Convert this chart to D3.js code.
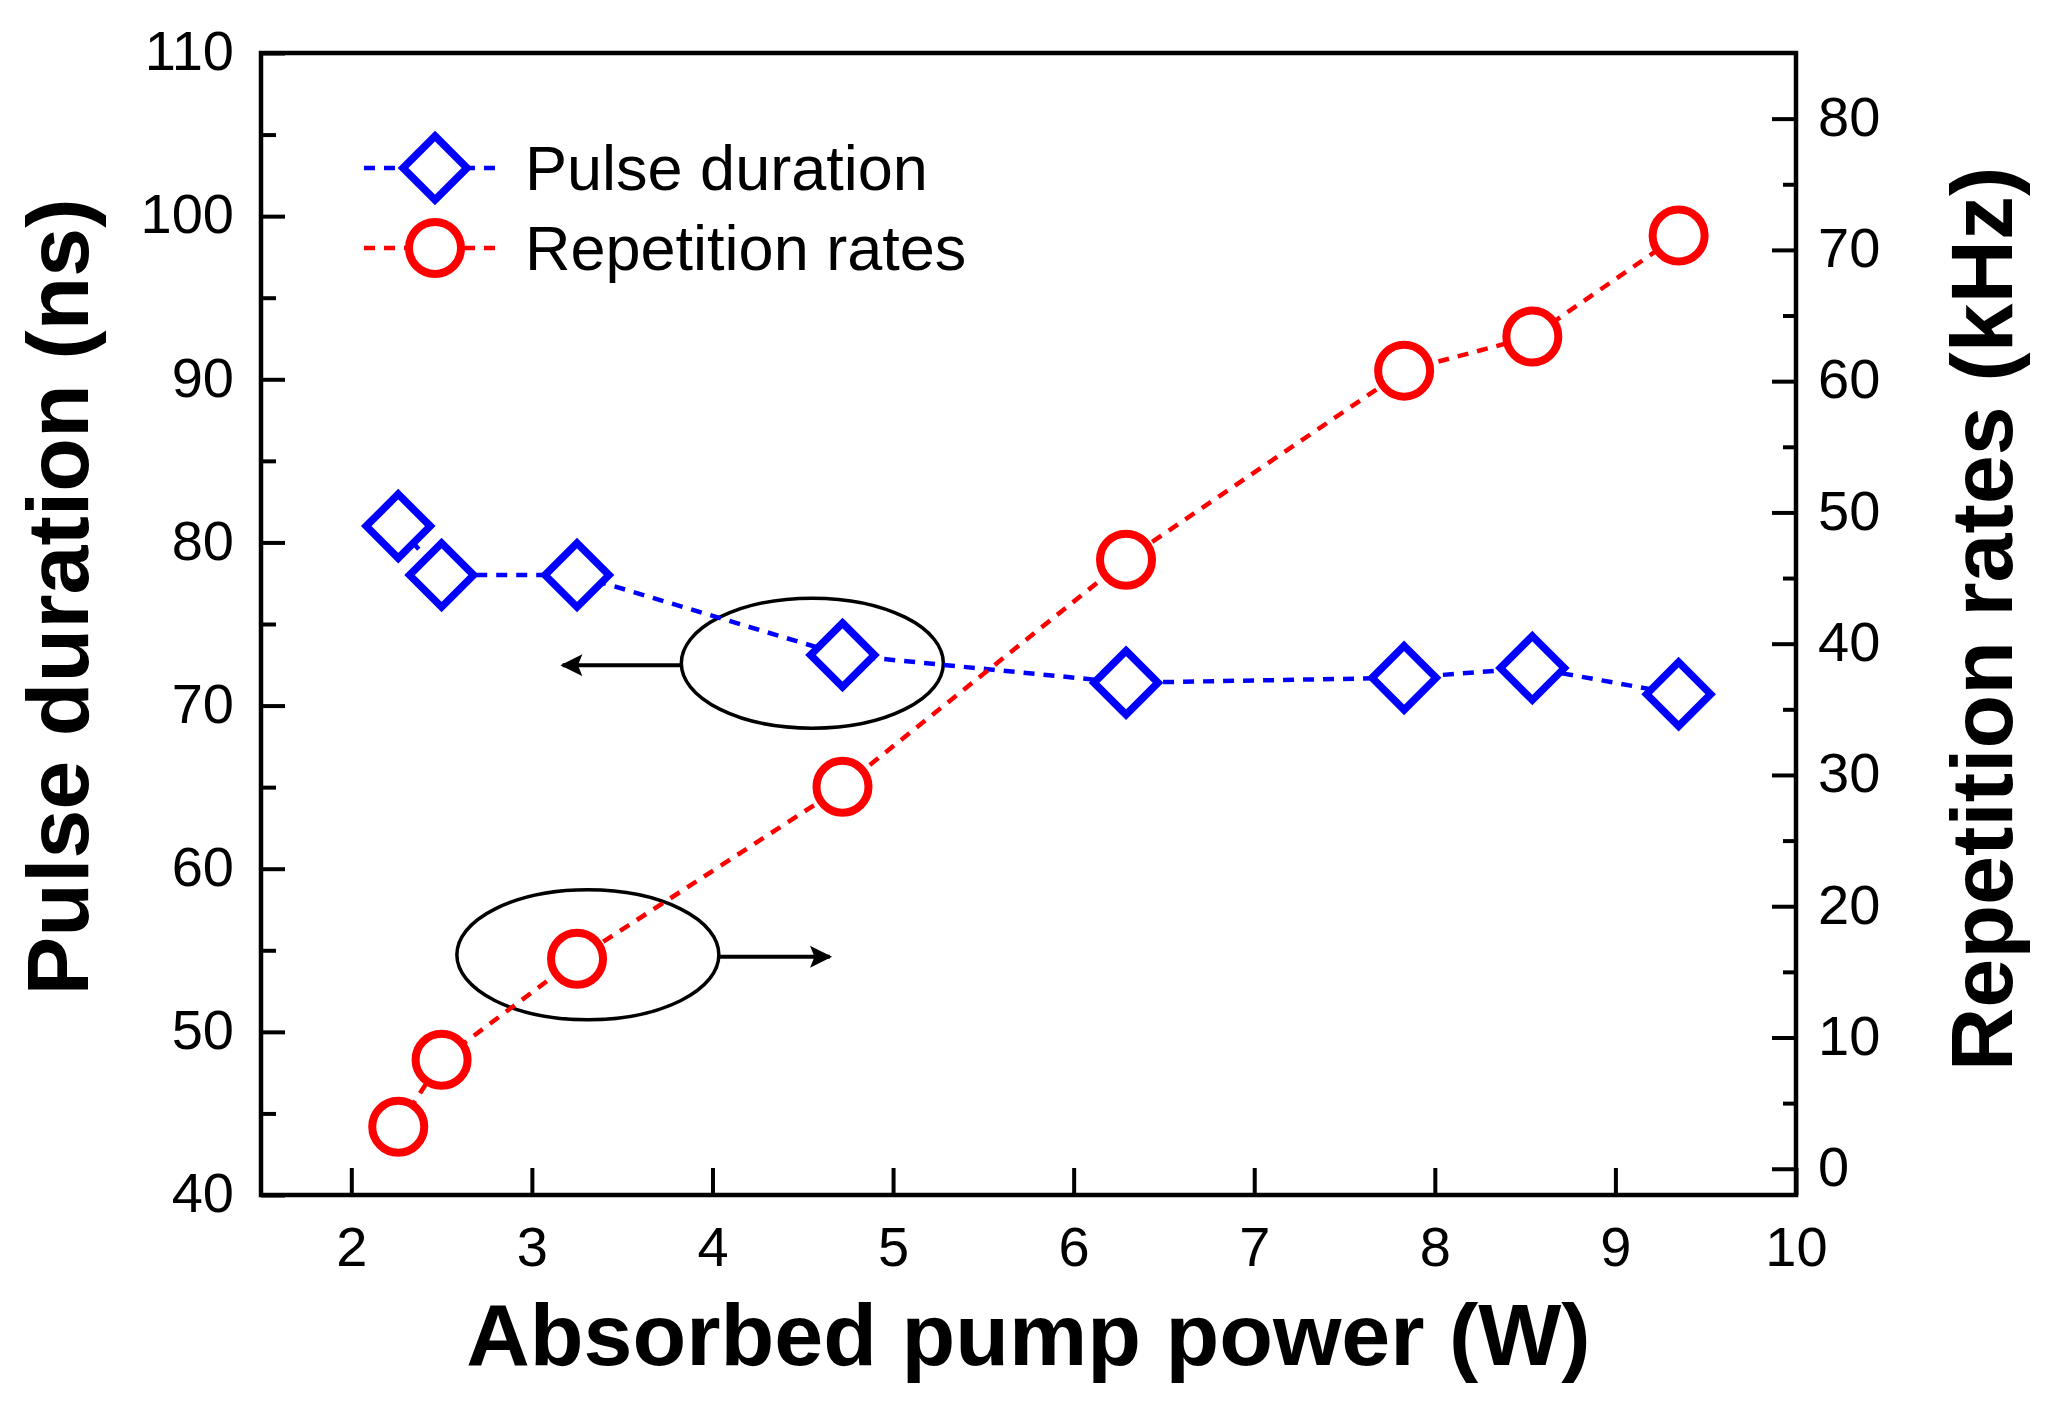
<!DOCTYPE html>
<html>
<head>
<meta charset="utf-8">
<script src="https://cdn.jsdelivr.net/npm/d3@7"></script>
<style>
  body { margin: 0; background: #fff; }
  svg { display: block; }
  text { font-family: "Liberation Sans", Arial, sans-serif; }
  .tick text { font-size: 56px; fill: #000; }
  .title { font-size: 88px; font-weight: bold; fill: #000; }
  .legend { font-size: 63px; fill: #000; }
</style>
</head>
<body>
<div id="chart"></div>
<script>
// data
const power = [2.26, 2.50, 3.25, 4.72, 6.29, 7.83, 8.54, 9.35]
const pulseDuration = [81.0, 78.0, 78.0, 73.1, 71.4, 71.7, 72.3, 70.7]
const repRate = [3.2, 8.3, 16.0, 29.1, 46.4, 60.8, 63.4, 71.1]

const xTicks = [2, 3, 4, 5, 6, 7, 8, 9, 10]
const leftTicks = [40, 50, 60, 70, 80, 90, 100, 110]
const leftMinor = [45, 55, 65, 75, 85, 95, 105]
const rightTicks = [0, 10, 20, 30, 40, 50, 60, 70, 80]
const rightMinor = [5, 15, 25, 35, 45, 55, 65, 75]

const config = {
  width: 2052,
  height: 1408,
  left: 261,
  right: 1796,
  top: 53,
  bottom: 1195,
  blue: '#0000ff',
  red: '#ff0000'
}

const svg = d3.select('#chart').append('svg')
  .attr('width', config.width)
  .attr('height', config.height)

svg.append('rect')
  .attr('width', config.width)
  .attr('height', config.height)
  .attr('fill', '#fff')

const x = d3.scaleLinear().domain([1.5, 10]).range([config.left, config.right])
const yL = d3.scaleLinear().domain([40, 110]).range([config.bottom, config.top])
const yR = d3.scaleLinear().domain([-2, 85]).range([config.bottom, config.top])

// axes (ticks pointing inward)
svg.append('g')
  .attr('transform', `translate(0,${config.bottom})`)
  .call(d3.axisBottom(x).tickValues(xTicks).tickSize(-27).tickPadding(31).tickFormat(d3.format('d')))

const lAxis = svg.append('g')
  .attr('transform', `translate(${config.left},0)`)
  .call(d3.axisLeft(yL).tickValues(leftTicks).tickSize(-24).tickPadding(27))
svg.append('g')
  .attr('transform', `translate(${config.left},0)`)
  .call(d3.axisLeft(yL).tickValues(leftMinor).tickSize(-15).tickFormat(''))

const rAxis = svg.append('g')
  .attr('transform', `translate(${config.right},0)`)
  .call(d3.axisRight(yR).tickValues(rightTicks).tickSize(-24).tickPadding(22))
svg.append('g')
  .attr('transform', `translate(${config.right},0)`)
  .call(d3.axisRight(yR).tickValues(rightMinor).tickSize(-13).tickFormat(''))

svg.selectAll('.domain').remove()
svg.selectAll('.tick line').attr('stroke', '#000').attr('stroke-width', 4)
lAxis.selectAll('.tick text').attr('dy', '0.3em')
rAxis.selectAll('.tick text').attr('dy', '0.3em')

// frame
svg.append('rect')
  .attr('x', config.left)
  .attr('y', config.top)
  .attr('width', config.right - config.left)
  .attr('height', config.bottom - config.top)
  .attr('fill', 'none')
  .attr('stroke', '#000')
  .attr('stroke-width', 4.5)

// axis titles
svg.append('text')
  .attr('class', 'title')
  .attr('x', (config.left + config.right) / 2)
  .attr('y', 1365)
  .attr('text-anchor', 'middle')
  .text('Absorbed pump power (W)')

svg.append('text')
  .attr('class', 'title')
  .attr('transform', 'translate(88,597) rotate(-90)')
  .attr('text-anchor', 'middle')
  .text('Pulse duration (ns)')

svg.append('text')
  .attr('class', 'title')
  .attr('transform', 'translate(2012,619) rotate(-90)')
  .attr('text-anchor', 'middle')
  .text('Repetition rates (kHz)')

// annotation ellipses with arrows
const defs = svg.append('defs')
defs.append('marker')
  .attr('id', 'head')
  .attr('viewBox', '0 0 10 10')
  .attr('refX', 9)
  .attr('refY', 5)
  .attr('markerWidth', 8)
  .attr('markerHeight', 5.5)
  .attr('markerUnits', 'strokeWidth')
  .attr('orient', 'auto')
  .append('path')
  .attr('d', 'M0,0 L10,5 L0,10 L2,5 Z')
  .attr('fill', '#000')

const notes = [
  { cx: x(4.553), cy: yL(72.6), to: x(3.17) },
  { cx: x(3.31), cy: yR(16.3), to: x(4.65) }
]
notes.forEach(n => {
  svg.append('ellipse')
    .attr('cx', n.cx).attr('cy', n.cy)
    .attr('rx', 131).attr('ry', 65)
    .attr('fill', 'none').attr('stroke', '#000').attr('stroke-width', 3.5)
  const from = n.to < n.cx ? n.cx - 131 : n.cx + 131
  svg.append('line')
    .attr('x1', from).attr('y1', n.cy + 2)
    .attr('x2', n.to).attr('y2', n.cy + 2)
    .attr('stroke', '#000').attr('stroke-width', 4)
    .attr('marker-end', 'url(#head)')
})

// series
const diamond = h => `M0,${-h}L${h},0L0,${h}L${-h},0Z`

const pulsePts = power.map((p, i) => [x(p), yL(pulseDuration[i])])
const repPts = power.map((p, i) => [x(p), yR(repRate[i])])

svg.append('path')
  .attr('d', d3.line()(pulsePts))
  .attr('fill', 'none').attr('stroke', config.blue)
  .attr('stroke-width', 4.5).attr('stroke-dasharray', '11,9')

svg.append('path')
  .attr('d', d3.line()(repPts))
  .attr('fill', 'none').attr('stroke', config.red)
  .attr('stroke-width', 4.5).attr('stroke-dasharray', '11,9')

svg.selectAll('.dia')
  .data(pulsePts)
  .enter()
  .append('path')
  .attr('class', 'dia')
  .attr('transform', d => `translate(${d[0]},${d[1]})`)
  .attr('d', diamond(32))
  .attr('fill', '#fff').attr('stroke', config.blue).attr('stroke-width', 7.5)

svg.selectAll('.circ')
  .data(repPts)
  .enter()
  .append('circle')
  .attr('class', 'circ')
  .attr('cx', d => d[0]).attr('cy', d => d[1])
  .attr('r', 26)
  .attr('fill', '#fff').attr('stroke', config.red).attr('stroke-width', 8)

// legend
const legend = svg.append('g')
const items = [
  { label: 'Pulse duration', color: config.blue, y: 168, shape: 'diamond' },
  { label: 'Repetition rates', color: config.red, y: 248, shape: 'circle' }
]
items.forEach(it => {
  legend.append('line')
    .attr('x1', 364).attr('x2', 504)
    .attr('y1', it.y).attr('y2', it.y)
    .attr('stroke', it.color).attr('stroke-width', 4.5).attr('stroke-dasharray', '11,9')
  if (it.shape === 'diamond') {
    legend.append('path')
      .attr('transform', `translate(435,${it.y})`)
      .attr('d', diamond(32))
      .attr('fill', '#fff').attr('stroke', it.color).attr('stroke-width', 7.5)
  } else {
    legend.append('circle')
      .attr('cx', 435).attr('cy', it.y).attr('r', 26)
      .attr('fill', '#fff').attr('stroke', it.color).attr('stroke-width', 8)
  }
  legend.append('text')
    .attr('class', 'legend')
    .attr('x', 525)
    .attr('y', it.y + 22)
    .text(it.label)
})
</script>
</body>
</html>
